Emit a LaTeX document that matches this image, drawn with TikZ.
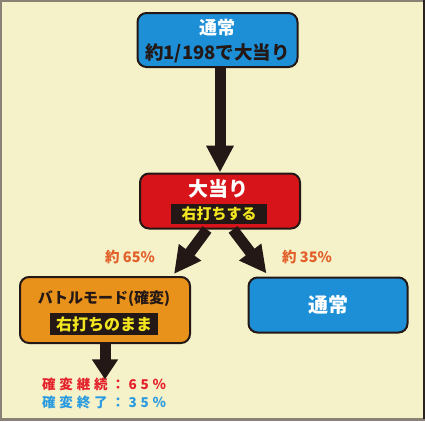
\documentclass[tikz,border=0pt]{standalone}
\usepackage{fontspec}
\setmainfont{Noto Sans CJK JP}
\newfontfamily\spaced{Noto Sans CJK JP}[LetterSpace=28]
\usetikzlibrary{arrows.meta}
\definecolor{bg}{HTML}{F5F1C9}
\definecolor{frameL}{HTML}{8A8177}
\definecolor{frameR}{HTML}{2A2420}
\definecolor{ink}{HTML}{231815}
\definecolor{boxblue}{HTML}{1C8FD6}
\definecolor{boxred}{HTML}{D7141A}
\definecolor{boxorange}{HTML}{E8921C}
\definecolor{tagyellow}{HTML}{F3E620}
\definecolor{pctorange}{HTML}{E2602A}
\definecolor{txtred}{HTML}{E5212B}
\definecolor{txtblue}{HTML}{2A9BE0}
\tikzset{
  panel/.style={draw=ink, line width=2pt, rounded corners=9pt, inner sep=0pt},
  tag/.style={fill=ink, text=tagyellow, inner sep=0pt, font=\bfseries\fontsize{15}{15}\selectfont},
  bigarrow/.style={draw=ink, line width=11pt, -{Triangle[width=26pt,length=27pt]}},
  pct/.style={text=pctorange, font=\bfseries\fontsize{14.5}{14.5}\selectfont, inner sep=0pt},
}
\begin{document}
\begin{tikzpicture}[x=1pt,y=-1pt]
\useasboundingbox (0,0) rectangle (425,421);
\fill[bg] (0,0) rectangle (425,421);
\fill[frameL] (0,0) rectangle (425,2);
\fill[frameL] (0,0) rectangle (2,421);
\fill[frameL] (0,418) rectangle (425,421);
\fill[frameR] (423,0) rectangle (425,419);

% boxes
\node[panel, fill=boxblue, minimum width=160pt, minimum height=54pt] (top) at (217.5,40) {};
\node[text=white, font=\bfseries\fontsize{18}{18}\selectfont, inner sep=0pt] (toptitle) at (217.5,28) {通常};
\node[text=ink, font=\bfseries\fontsize{18.5}{18.5}\selectfont, inner sep=0pt] (topsub) at (217.5,53) {約1/198で大当り};

\node[panel, fill=boxred, minimum width=160pt, minimum height=55pt] (hit) at (220,201) {};
\node[text=white, font=\bfseries\fontsize{20}{20}\selectfont, inner sep=0pt] (hittitle) at (218,189) {大当り};
\node[tag, minimum width=96pt, minimum height=20pt] (hittag) at (219,214) {右打ちする};

\node[panel, fill=boxorange, minimum width=170pt, minimum height=66pt] (battle) at (105,310) {};
\node[text=ink, font=\bfseries\fontsize{15}{15}\selectfont, inner sep=0pt] (battletitle) at (104,299) {バトルモード(確変)};
\node[tag, minimum width=108pt, minimum height=22pt, font=\bfseries\fontsize{16}{16}\selectfont] (battletag) at (104,324) {右打ちのまま};

\node[panel, fill=boxblue, minimum width=159pt, minimum height=55pt] (normal) at (328,305) {};
\node[text=white, font=\bfseries\fontsize{20}{20}\selectfont, inner sep=0pt] (normaltitle) at (328,305) {通常};

% percentages
\node[pct] (p65) at (130,257) {約 65\%};
\node[pct] (p35) at (307,257) {約 35\%};

% result text
\node[anchor=west, text=txtred, font=\spaced\bfseries\fontsize{13.5}{13.5}\selectfont, inner sep=0pt] (cont) at (42,384) {確変継続：65％};
\node[anchor=west, text=txtblue, font=\spaced\bfseries\fontsize{13.5}{13.5}\selectfont, inner sep=0pt] (end) at (42,402) {確変終了：35％};

% arrows
\draw[bigarrow] (top.south) ++(2.5,0) coordinate (a0) (a0) -- (hit.north -| a0);
\draw[bigarrow] ([xshift=-13pt]hit.south) -- ([xshift=-17pt,yshift=2pt]battle.north east);
\draw[bigarrow] ([xshift=13pt]hit.south) -- ([xshift=19pt,yshift=3pt]normal.north west);
\draw[bigarrow, -{Triangle[width=25pt,length=20pt]}] ([xshift=0pt]battle.south) -- ([yshift=-2pt]cont.north -| battle.south);
\end{tikzpicture}
\end{document}
